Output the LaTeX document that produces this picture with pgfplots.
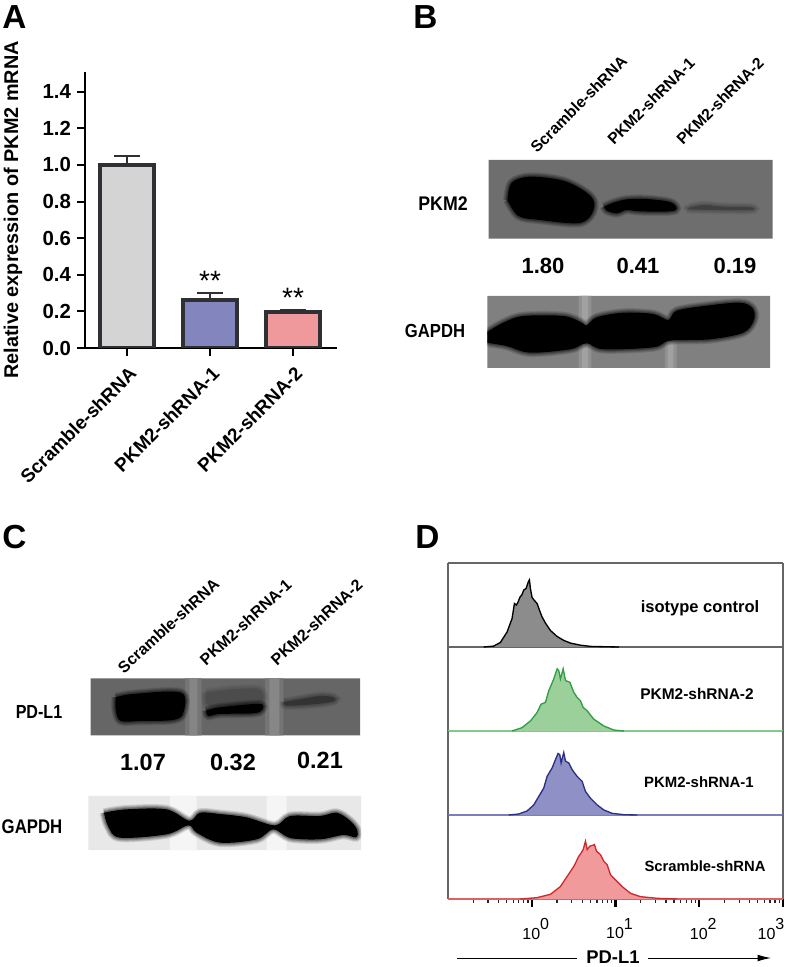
\documentclass[border=0pt]{standalone}
\usepackage{fontspec}
\setmainfont{Liberation Sans}
\usepackage{pgfplots}
\usepackage{pgfplotstable}
\pgfplotsset{compat=1.18}
\usetikzlibrary{arrows.meta}

\definecolor{barline}{HTML}{2E3033}
\definecolor{scr}{HTML}{D3D4D3}
\definecolor{sh1}{HTML}{8385BF}
\definecolor{sh2}{HTML}{F0999C}
\definecolor{grnfill}{HTML}{9BD09B}
\definecolor{grnline}{HTML}{2F9E44}
\definecolor{grnbase}{HTML}{86C98A}
\definecolor{blufill}{HTML}{8F91C6}
\definecolor{bluline}{HTML}{2B3086}
\definecolor{blubase}{HTML}{7C7FBC}
\definecolor{redfill}{HTML}{F09A9C}
\definecolor{redline}{HTML}{CF2A2E}
\definecolor{redbase}{HTML}{DE6265}

% histograms: x = intensity, y = height on a panel scale of 112
\pgfplotstableread{
x y
0.267 0
0.351 1.2
0.422 6
0.507 20
0.582 38
0.621 58
0.656 56
0.687 60
0.719 66
0.766 70
0.802 76
0.855 78
0.904 86
0.938 89.5
0.964 78
1.009 66
1.076 62
1.158 58
1.247 48
1.329 40
1.456 32
1.672 22
2.009 14
2.41 8.8
2.90 5.2
3.82 2.4
5.02 0.8
7.26 0.4
10.96 0
}\isotype
\pgfplotstableread{
x y
0.582 0
0.766 4.5
0.964 13.4
1.158 24.6
1.293 35.8
1.456 38.1
1.597 53.8
1.832 69.4
2.009 82.9
2.10 80.6
2.20 69.4
2.37 82.9
2.53 67.2
2.85 65
3.18 51.5
3.48 44.8
3.82 40.3
4.11 31.4
4.59 26.9
5.51 15.7
7.26 6.7
9.55 1.3
12.6 0
}\shtwo
\pgfplotstableread{
x y
0.531 0
0.699 1.3
0.88 5.4
1.056 13.4
1.21 24.6
1.39 35.8
1.525 51.5
1.75 62.7
1.92 73.9
2.06 82
2.16 80.6
2.24 69.4
2.41 83.3
2.53 71.7
2.77 69.4
3.03 60.5
3.48 51.5
4.0 44.8
4.38 31.4
5.02 22.4
6.04 13.4
7.26 6.7
9.12 2.2
12.6 0.4
18.2 0
}\shone
\pgfplotstableread{
x y
0.732 0
1.158 1.8
1.672 6.3
2.20 16.6
2.64 30
3.18 43.5
3.65 57
3.89 61.5
4.11 65.9
4.38 77.1
4.59 65.9
4.93 70.4
5.26 71.3
5.61 72.6
5.93 63.8
6.62 59.1
7.26 50.2
7.95 45.7
8.71 32.3
10 25.5
12.0 16.6
15.1 7.6
19.9 3.1
31.5 0.9
54.6 0
}\scramble

% reference pixels -> 0.75pt, y counted from the top
\pgfplotsset{
  box/.code n args={4}{%
    \pgfmathsetlengthmacro\bw{(#3-#1)*0.75pt}%
    \pgfmathsetlengthmacro\bh{(#4-#2)*0.75pt}%
    \pgfmathsetlengthmacro\bx{#1*0.75pt}%
    \pgfmathsetlengthmacro\by{(967-#2)*0.75pt}%
    \pgfkeysalso{scale only axis,width=\bw,height=\bh,at={(\bx,\by)},anchor=north west}},
  blot/.style={hide axis,y dir=reverse},
  flow/.style={
    xmin=0.1,xmax=1000,ymin=0,ymax=112,ytick=\empty,xtick=\empty,clip=false,
    separate axis lines,
    y axis line style={draw=black!60,line width=0.8pt},
    x axis line style={draw=none}},
}

% background of a blot
\newcommand{\blotbg}[5]{\addplot[fill=#1,draw=none] coordinates {(#2,#4) (#3,#4) (#3,#5) (#2,#5) (#2,#4)};}
% a band with soft edge
\newcommand{\band}[2]{%
  \addplot[smooth,tension=.55,draw=#1,draw opacity=.12,line width=6.5pt] coordinates {#2};
  \addplot[smooth,tension=.55,draw=#1,draw opacity=.14,line width=5pt] coordinates {#2};
  \addplot[smooth,tension=.55,draw=#1,draw opacity=.18,line width=3.5pt] coordinates {#2};
  \addplot[smooth,tension=.55,draw=#1,draw opacity=.25,line width=2pt] coordinates {#2};
  \addplot[smooth,tension=.55,fill=#1,draw=none] coordinates {#2};}
% one histogram over its base line
\newcommand{\hist}[4]{%
  \addplot[draw=#1,line width=1pt] coordinates {(0.1,0) (1000,0)};
  \addplot[fill=#2,draw=none] table {#4} \closedcycle;
  \addplot[draw=#3,line width=1pt] table {#4};}

\newcommand{\lab}[1]{\fontsize{#1}{#1}\selectfont\bfseries}
\newcommand{\pw}[1]{10\raisebox{.6em}{#1}}

\begin{document}
\begin{tikzpicture}
\useasboundingbox (0,0) rectangle (590.25pt,725.25pt);

% ---- A: bars
\begin{axis}[
  box={85}{72}{337}{348},
  xmin=-0.506,xmax=2.53,ymin=0,ymax=1.508,
  axis x line*=bottom,axis y line*=left,
  axis line style={-,draw=black,line width=1.9pt},
  tick align=outside,major tick length=6pt,
  every tick/.style={black,line width=1.6pt},
  xtick={0,1,2},xticklabels={Scramble-shRNA,PKM2-shRNA-1,PKM2-shRNA-2},
  ytick={0,0.2,0.4,0.6,0.8,1.0,1.2,1.4},
  /pgf/number format/assume math mode=true,
  /pgf/number format/fixed,/pgf/number format/fixed zerofill,/pgf/number format/precision=1,
  yticklabel style={font=\lab{15.3},xshift=-1pt},
  xticklabel style={font=\lab{14.2},rotate=45,anchor=north east,xshift=-1pt,yshift=-2pt},
  every axis y label/.style={at={(axis description cs:-0.286,0.5)},rotate=90,anchor=center},
  ylabel={\lab{14.9}Relative expression of PKM2 mRNA},
  ybar,bar width=40pt,
  error bars/error bar style={barline,line width=1.7pt},
  error bars/error mark options={barline,line width=1.7pt,mark size=10pt,rotate=90},
]
\addplot[bar shift=0pt,fill=scr,draw=barline,line width=3pt,error bars/.cd,y dir=plus,y explicit]
  coordinates {(0,1.00) +- (0,0.05)};
\addplot[bar shift=0pt,fill=sh1,draw=barline,line width=3pt,error bars/.cd,y dir=plus,y explicit]
  coordinates {(1,0.26) +- (0,0.04)};
\addplot[bar shift=0pt,fill=sh2,draw=barline,line width=3pt,error bars/.cd,y dir=plus,y explicit]
  coordinates {(2,0.195) +- (0,0.01)};
\node[font=\fontsize{21}{21}\selectfont] at (axis cs:1,0.365) {**};
\node[font=\fontsize{21}{21}\selectfont] at (axis cs:2,0.275) {**};
\end{axis}

% ---- B: PKM2 blot, coordinates as on a 3x crop
\begin{axis}[box={488.7}{160}{772.7}{238.7},blot,xmin=296,xmax=1148,ymin=480,ymax=716]
\blotbg{black!57}{296}{1148}{480}{716}
\band{black}{(352,600) (365,548) (420,530) (520,542) (590,578) (613,610) (600,650) (560,670) (450,660) (385,648) (352,600)}
\band{black}{(642,620) (670,608) (710,598) (770,597) (840,606) (860,625) (840,634) (750,634) (710,630) (680,640) (650,632) (642,620)}
\band{black!75}{(897,623) (940,615) (1000,620) (1083,622) (1083,630) (1000,630) (930,629) (897,627) (897,623)}
\end{axis}
\begin{axis}[box={487.3}{296}{770}{368},blot,xmin=292,xmax=1140,ymin=888,ymax=1104]
\blotbg{black!50}{292}{1140}{888}{1104}
\blotbg{black!43}{566}{604}{888}{1104}
\blotbg{black!37}{576}{594}{888}{1104}
\blotbg{black!43}{825}{860}{1000}{1104}
\blotbg{black!37}{834}{850}{1000}{1104}
\band{black}{(285,1000) (340,968) (400,948) (520,948) (572,966) (590,976) (620,952) (700,938) (790,942) (835,960) (860,932) (950,917) (1050,908) (1088,925) (1092,960) (1060,998) (960,1018) (840,1022) (790,1042) (640,1048) (590,1030) (540,1048) (420,1058) (350,1038) (285,1025) (285,1000)}
\end{axis}

% ---- C: PD-L1 blot
\begin{axis}[box={90.7}{678.3}{360}{735.3},blot,xmin=272,xmax=1080,ymin=505,ymax=676]
\blotbg{black!60}{272}{1080}{505}{676}
\blotbg{black!54}{555}{605}{505}{676}
\blotbg{black!48}{568}{592}{505}{676}
\blotbg{black!54}{795}{850}{505}{676}
\blotbg{black!47}{808}{838}{505}{676}
\band{black!70}{(618,548) (700,538) (778,538) (783,575) (680,585) (622,585) (618,548)}
\band{black}{(347,562) (400,552) (543,548) (550,608) (520,630) (420,633) (362,633) (347,600) (347,562)}
\band{black}{(618,602) (660,592) (778,582) (786,600) (760,610) (660,612) (625,618) (618,602)}
\band{black!80}{(852,576) (900,568) (960,558) (1000,562) (1003,573) (950,582) (862,587) (852,576)}
\end{axis}
\begin{axis}[box={88.3}{796}{361}{850},blot,xmin=265,xmax=1083,ymin=858,ymax=1020]
\blotbg{black!9}{265}{1083}{858}{1020}
\blotbg{black!4}{510}{590}{858}{1020}
\blotbg{black!4}{800}{860}{858}{1020}
\band{black}{(312,908) (380,898) (500,898) (568,932) (600,908) (660,912) (740,922) (825,946) (870,918) (960,918) (1010,908) (1050,932) (1072,960) (1068,982) (1030,975) (960,988) (870,984) (820,958) (770,988) (660,998) (590,968) (565,946) (500,973) (360,983) (325,950) (312,908)}
\end{axis}

% ---- D: histograms
\begin{semilogxaxis}[flow,box={448}{563}{783}{647}]
\addplot[draw=black!60,line width=0.8pt] coordinates {(0.1,112) (1000,112)};
\hist{black!60}{black!45}{black}{\isotype}
\end{semilogxaxis}
\begin{semilogxaxis}[flow,box={448}{647}{783}{731}]
\hist{grnbase}{grnfill}{grnline}{\shtwo}
\end{semilogxaxis}
\begin{semilogxaxis}[flow,box={448}{731}{783}{815}]
\hist{blubase}{blufill}{bluline}{\shone}
\end{semilogxaxis}
\begin{semilogxaxis}[flow,box={448}{815}{783}{899},
  xtick={1,10,100,1000},
  xticklabels={\pw{0},\pw{1},\pw{2},\kern-24pt\pw{3}},
  minor xtick={0.2,0.3,0.4,0.5,0.6,0.7,0.8,0.9,2,3,4,5,6,7,8,9,20,30,40,50,60,70,80,90,200,300,400,500,600,700,800,900},
  xtick pos=bottom,tick align=outside,
  major tick length=6pt,minor tick length=3pt,
  every major tick/.style={black,line width=1.6pt},
  every minor tick/.style={black!85,line width=0.9pt},
  xticklabel style={font=\fontsize{12}{12}\selectfont,xshift=3pt,yshift=-5pt},
]
\hist{redbase}{redfill}{redline}{\scramble}
\end{semilogxaxis}

% ---- texts, placed in reference pixels
\begin{scope}[x=0.75pt,y=-0.75pt,yshift=725.25pt]
\foreach \t/\x/\y in {A/14.5/17.5,B/425.5/17,C/14.5/537.5,D/427.5/537.5}
  \node[font=\lab{25}] at (\x,\y) {\t};

% B
\node[font=\lab{14.8},xscale=.9] at (443,204) {PKM2};
\node[font=\lab{14.2},xscale=.88] at (435,331) {GAPDH};
\node[font=\lab{16.5}] at (543,266) {1.80};
\node[font=\lab{16.5}] at (638,266) {0.41};
\node[font=\lab{16.5}] at (735,266) {0.19};
\node[font=\lab{11.8},rotate=45,anchor=west,inner sep=0pt] at (533,150) {Scramble-shRNA};
\node[font=\lab{11.8},rotate=45,anchor=west,inner sep=0pt] at (610,142) {PKM2-shRNA-1};
\node[font=\lab{11.8},rotate=45,anchor=west,inner sep=0pt] at (679,142) {PKM2-shRNA-2};

% C
\node[font=\lab{14.2},xscale=.85] at (39,712) {PD-L1};
\node[font=\lab{14.8},xscale=.85] at (32,827) {GAPDH};
\node[font=\lab{17.6}] at (143,762) {1.07};
\node[font=\lab{17.6}] at (233,762) {0.32};
\node[font=\lab{17.6}] at (320,760) {0.21};
\node[font=\lab{12},rotate=42.5,anchor=west,inner sep=0pt] at (120,670) {Scramble-shRNA};
\node[font=\lab{12},rotate=42.5,anchor=west,inner sep=0pt] at (202,662) {PKM2-shRNA-1};
\node[font=\lab{12},rotate=42.5,anchor=west,inner sep=0pt] at (273,662) {PKM2-shRNA-2};

% D
\node[font=\lab{12.4}] at (700,608) {isotype control};
\node[font=\lab{11.6}] at (697,694) {PKM2-shRNA-2};
\node[font=\lab{11.2}] at (699,782) {PKM2-shRNA-1};
\node[font=\lab{11.1}] at (705,866) {Scramble-shRNA};
\node[font=\lab{13.8},inner sep=0pt] at (613,957) {PD-L1};
\draw[line width=.7pt] (457,958) -- (577,958);
\draw[line width=.7pt,-{Latex[length=10pt,width=5pt]}] (648,958) -- (771,958);
\end{scope}
\end{tikzpicture}
\end{document}
